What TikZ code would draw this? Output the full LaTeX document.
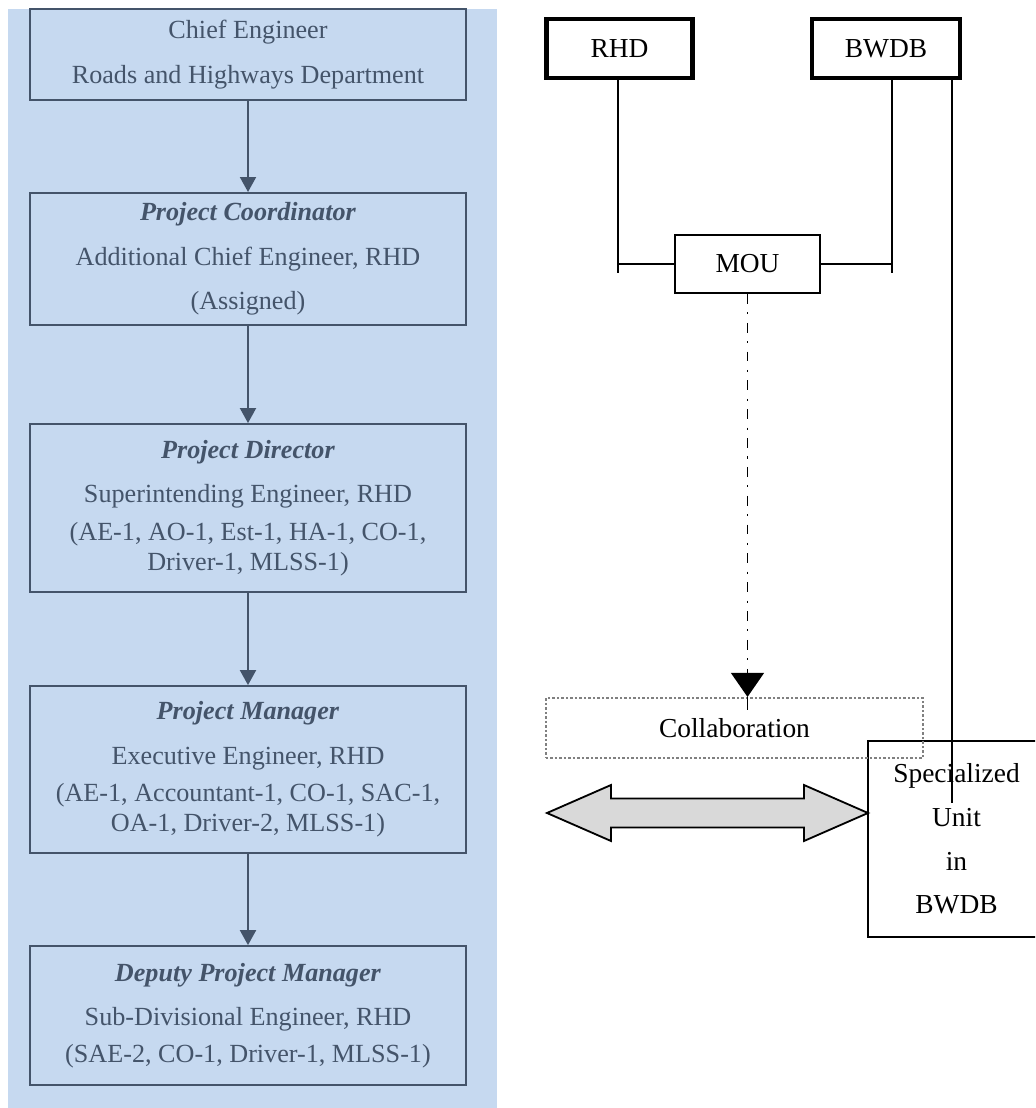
\documentclass[tikz,border=0pt]{standalone}
\usepackage{fontspec}
\setmainfont{Liberation Serif}
\usetikzlibrary{positioning,arrows.meta}
\definecolor{slate}{RGB}{68,84,106}
\definecolor{paleblue}{RGB}{198,217,240}
\tikzstyle{post} = [rectangle,minimum width=10.9cm,draw=slate,line width=1.4pt,text=slate,align=center,font=\fontsize{18.6}{21.5}\selectfont]
\tikzstyle{party} = [rectangle,minimum width=3.65cm,minimum height=1.475cm,draw=black,line width=3.5pt,font=\fontsize{19.5}{23}\selectfont]
\tikzstyle{pact} = [rectangle,minimum width=3.625cm,minimum height=1.45cm,draw=black,line width=1.4pt,font=\fontsize{19.5}{23}\selectfont]
\tikzstyle{joint} = [rectangle,minimum width=9.425cm,minimum height=1.5cm,draw=black!50,line width=1.5pt,dash pattern=on 1.6pt off 1.6pt,font=\fontsize{19.5}{23}\selectfont]
\tikzstyle{unit} = [rectangle,minimum width=4.425cm,minimum height=4.9cm,draw=black,line width=1.4pt,align=center,font=\fontsize{19.5}{31}\selectfont]
\tikzstyle{link} = [line width=1.3pt]
\tikzstyle{down} = [-{Triangle[width=0.4cm,length=0.375cm]},draw=slate,line width=1.4pt]

\begin{document}
\begin{tikzpicture}[x=0.025cm,y=-0.025cm,node distance=2.275cm]
    \useasboundingbox (0,0) rectangle (1035,1108);
    \clip (0,0) rectangle (1035,1108);

    % Panel
    \fill[paleblue] (8,9) rectangle (497,1108);

    % Posts
    \node[post,minimum height=2.275cm] (chief) at (248,54.5) {Chief Engineer\\[10pt]Roads and Highways Department};
    \node[post,minimum height=3.3cm,below=of chief] (coord) {\textbf{\textit{Project Coordinator}}\\[10pt]Additional Chief Engineer, RHD\\[10pt](Assigned)};
    \node[post,minimum height=4.2cm,below=2.425cm of coord] (director) {\textbf{\textit{Project Director}}\\[10pt]Superintending Engineer, RHD\\[5pt](AE-1, AO-1, Est-1, HA-1, CO-1,\\Driver-1, MLSS-1)};
    \node[post,minimum height=4.175cm,below=2.3cm of director] (manager) {\textbf{\textit{Project Manager}}\\[10pt]Executive Engineer, RHD\\[5pt](AE-1, Accountant-1, CO-1, SAC-1,\\OA-1, Driver-2, MLSS-1)};
    \node[post,minimum height=3.475cm,below=of manager] (deputy) {\textbf{\textit{Deputy Project Manager}}\\[10pt]Sub-Divisional Engineer, RHD\\[5pt](SAE-2, CO-1, Driver-1, MLSS-1)};

    % Parties
    \node[party] (rhd) at (619.5,48.5) {RHD};
    \node[party,minimum width=3.7cm] (bwdb) at (886,48.5) {BWDB};
    \node[pact] (mou) at (747.5,264) {MOU};
    \node[unit] (spec) at (956.5,839) {Specialized\\Unit\\in\\BWDB};
    \node[joint] (collab) at (734.5,728) {Collaboration};
    \coordinate (rhd end) at (618,273);
    \coordinate (bwdb end) at (892,273);
    \coordinate (spec end) at (952,803);

    % arrow
    \draw[down] (chief) -- (coord);
    \draw[down] (coord) -- (director);
    \draw[down] (director) -- (manager);
    \draw[down] (manager) -- (deputy);

    \draw[link] (rhd.south -| rhd end) -- (rhd end);
    \draw[link] (mou.west) -- (mou.west -| rhd end);
    \draw[link] (bwdb.south -| bwdb end) -- (bwdb end);
    \draw[link] (mou.east) -- (mou.east -| bwdb end);
    \draw[link] (bwdb.south -| spec end) -- (spec end);

    \draw[link,dash pattern=on 7pt off 6pt on 1.5pt off 6pt,-{Triangle[width=0.82cm,length=0.6cm]}] (mou.south) -- (mou.south |- collab.north);
    \draw[link,dash pattern=on 9pt off 3pt] (mou.south |- collab.north) -- ++(0,13);

    % Exchange
    \draw[line width=1.3pt,fill=black!15] (547,813) -- (611,785) -- (611,798.5) -- (804,798.5) -- (804,785) -- (868,813) -- (804,841) -- (804,827.5) -- (611,827.5) -- (611,841) -- cycle;
\end{tikzpicture}
\end{document}
